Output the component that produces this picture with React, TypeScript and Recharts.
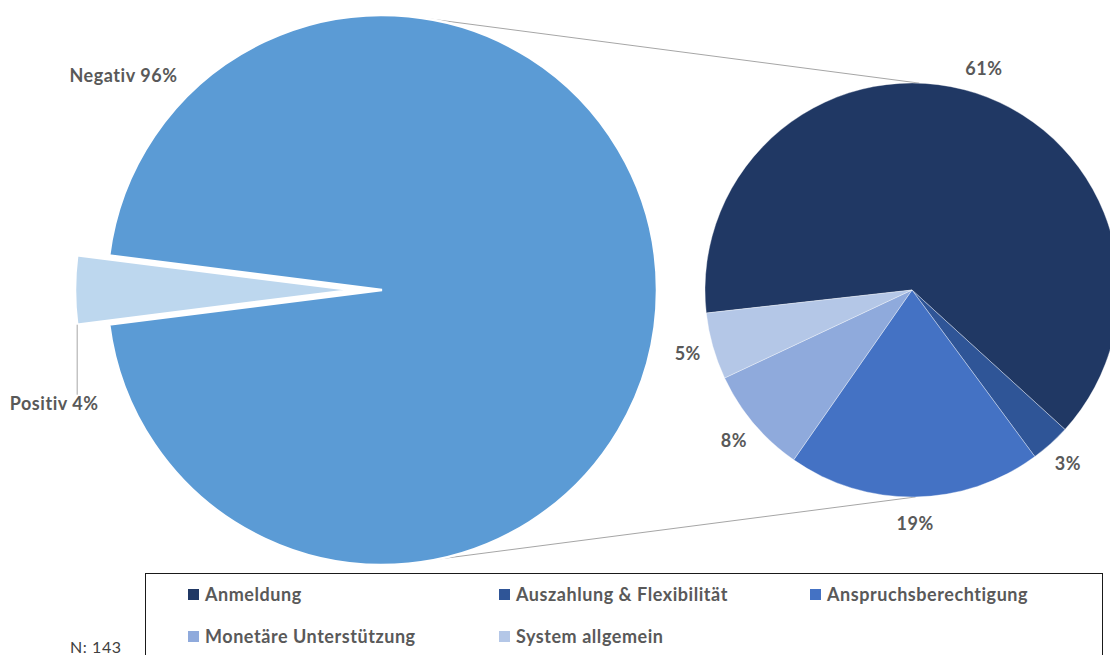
import { PieChart, Pie, Cell, Customized } from "recharts";

// main split
const mainNames = ["Negativ", "Positiv"];
const mainValues = [96, 4];
const mainColors = ["#5B9BD5", "#BDD7EE"];

// breakdown of the negative answers (share of all answers)
const detailNames = [
  "Anmeldung",
  "Auszahlung & Flexibilität",
  "Anspruchsberechtigung",
  "Monetäre Unterstützung",
  "System allgemein",
];
const detailValues = [61, 3, 19, 8, 5];
const detailColors = ["#203864", "#2F5597", "#4472C4", "#8FAADC", "#B4C7E7"];

const sampleNote = "N: 143";

const mainData = mainNames.map((name, i) => ({ name, value: mainValues[i] }));
const detailData = detailNames.map((name, i) => ({ name, value: detailValues[i] }));

const W = 1110;
const H = 655;
const FONT = "Lato, 'Open Sans', sans-serif";
const LABEL = "#595959";
const FS = 18;
const LS = 0.55;

const MAIN = { cx: 382, cy: 290, r: 275 };
const EXPLODE = 30;
const SMALL = { cx: 912, cy: 290, r: 207 };
const RAD = Math.PI / 180;

const polar = (cx: number, cy: number, r: number, a: number) => ({
  x: cx + r * Math.cos(a * RAD),
  y: cy - r * Math.sin(a * RAD),
});

const pct = (v: number) => `${v}%`;

const textStyle = {
  fill: LABEL,
  fontFamily: FONT,
  fontWeight: 700,
  fontSize: FS,
  letterSpacing: LS,
};

function mainLabel(props: any) {
  const { cx, cy, outerRadius, index } = props;
  if (index !== 0) return null;
  const p = polar(cx, cy, outerRadius + 61, 140.3);
  return (
    <text x={p.x} y={p.y} textAnchor="middle" dominantBaseline="central" {...textStyle}>
      {`${mainNames[0]} ${pct(mainValues[0])}`}
    </text>
  );
}

function explodedLabel(props: any) {
  const { cx, cy, outerRadius, index, midAngle, percent } = props;
  if (index !== 1) return null;
  const corner = polar(cx, cy, outerRadius, midAngle + percent * 180);
  return (
    <g>
      <line x1={corner.x} y1={corner.y} x2={corner.x} y2={corner.y + 70} stroke="#A6A6A6" strokeWidth={1} />
      <text x={corner.x - 23} y={corner.y + 78} textAnchor="middle" dominantBaseline="central" {...textStyle}>
        {`${mainNames[1]} ${pct(mainValues[1])}`}
      </text>
    </g>
  );
}

function detailLabel(props: any) {
  const { cx, cy, outerRadius, midAngle, index } = props;
  const p = polar(cx, cy, outerRadius + 26, midAngle);
  return (
    <text x={p.x} y={p.y} textAnchor="middle" dominantBaseline="central" {...textStyle}>
      {pct(detailValues[index])}
    </text>
  );
}

function Connectors() {
  const a1 = polar(MAIN.cx, MAIN.cy, MAIN.r, 82);
  const b1 = polar(SMALL.cx, SMALL.cy, SMALL.r, 88);
  const a2 = polar(MAIN.cx, MAIN.cy, MAIN.r, -78);
  const b2 = polar(SMALL.cx, SMALL.cy, SMALL.r, -89);
  return (
    <g>
      <line x1={a1.x} y1={a1.y} x2={b1.x} y2={b1.y} stroke="#A6A6A6" strokeWidth={1} />
      <line x1={a2.x} y1={a2.y} x2={b2.x} y2={b2.y} stroke="#A6A6A6" strokeWidth={1} />
    </g>
  );
}

const half = (mainValues[1] / (mainValues[0] + mainValues[1])) * 180;
const detailStart = 186.4;

export default function App() {
  return (
    <div style={{ position: "absolute", left: 0, top: 0, width: W, height: H, background: "#fff", overflow: "hidden" }}>
      <PieChart width={W} height={H} margin={{ top: 0, right: 0, bottom: 0, left: 0 }}>
        <Customized component={Connectors} />
        <Pie
          data={mainData}
          dataKey="value"
          nameKey="name"
          cx={MAIN.cx}
          cy={MAIN.cy}
          outerRadius={MAIN.r}
          startAngle={180 - half}
          endAngle={180 - half - 360}
          stroke="#fff"
          strokeWidth={2.5}
          label={mainLabel}
          labelLine={false}
          isAnimationActive={false}
        >
          <Cell fill={mainColors[0]} />
          <Cell fill="none" stroke="none" />
        </Pie>
        <Pie
          data={mainData}
          dataKey="value"
          nameKey="name"
          cx={MAIN.cx - EXPLODE}
          cy={MAIN.cy}
          outerRadius={MAIN.r + 2}
          startAngle={180 - half}
          endAngle={180 - half - 360}
          stroke="#fff"
          strokeWidth={2.5}
          label={explodedLabel}
          labelLine={false}
          isAnimationActive={false}
        >
          <Cell fill="none" stroke="none" />
          <Cell fill={mainColors[1]} />
        </Pie>
        <Pie
          data={detailData}
          dataKey="value"
          nameKey="name"
          cx={SMALL.cx}
          cy={SMALL.cy}
          outerRadius={SMALL.r}
          startAngle={detailStart}
          endAngle={detailStart - 360}
          stroke="rgba(255,255,255,0.35)"
          strokeWidth={1}
          label={detailLabel}
          labelLine={false}
          isAnimationActive={false}
        >
          {detailData.map((d, i) => (
            <Cell key={d.name} fill={detailColors[i]} />
          ))}
        </Pie>
      </PieChart>

      {/* legend box */}
      <div style={{
        position: "absolute", left: 145, top: 573, width: 958, height: 110,
        border: "1px solid #1a1a1a", boxSizing: "border-box",
        fontFamily: FONT, fontWeight: 700, fontSize: FS, letterSpacing: LS, color: LABEL,
      }}>
        {detailNames.map((name, i) => (
          <div key={name} style={{
            position: "absolute",
            left: 42 + (i % 3) * 311,
            top: 9 + Math.floor(i / 3) * 42,
            display: "flex", alignItems: "center", whiteSpace: "nowrap",
          }}>
            <span style={{ display: "inline-block", width: 11, height: 11, background: detailColors[i], marginRight: 6 }} />
            <span>{name}</span>
          </div>
        ))}
      </div>

      <div style={{
        position: "absolute", left: 70, top: 637, fontFamily: FONT, fontSize: 16, letterSpacing: 0.6, color: "#404040",
      }}>
        {sampleNote}
      </div>
    </div>
  );
}
